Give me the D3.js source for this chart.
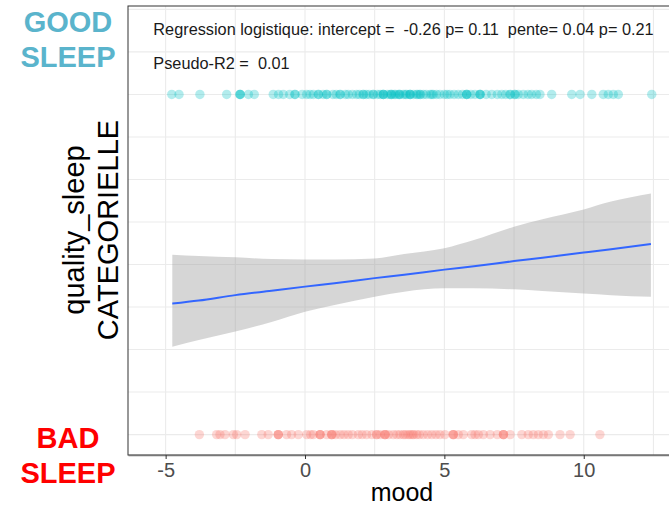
<!DOCTYPE html>
<html>
<head>
<meta charset="utf-8">
<script src="https://cdn.jsdelivr.net/npm/d3@7"></script>
<style>
  body { margin: 0; background: #fff; }
  svg { display: block; font-family: "Liberation Sans", Arial, sans-serif; }
</style>
</head>
<body>
<div id="wrapper"></div>
<script>
// mood of nights rated good sleep (y = 1)
const goodSleepMood = [-4.78, -4.52, -3.77, -2.81, -2.33, -2.33, -2.33, -2.03, -1.82, -1.14,
  -0.95, -0.78, -0.55, -0.36, -0.36, -0.1, 0.06, 0.18, 0.3, 0.48, 0.48, 0.65, 0.78, 0.78, 1.0,
  1.12, 1.26, 1.26, 1.45, 1.55, 1.7, 1.85, 1.95, 2.09, 2.09, 2.2, 2.3, 2.45, 2.45, 2.6, 2.7,
  2.81, 2.81, 2.81, 2.95, 3.05, 3.1, 3.1, 3.2, 3.25, 3.35, 3.4, 3.4, 3.53, 3.6, 3.65, 3.77,
  3.77, 3.77, 3.9, 4.0, 4.05, 4.13, 4.13, 4.25, 4.35, 4.49, 4.55, 4.6, 4.72, 4.84, 5.0, 5.1,
  5.2, 5.35, 5.5, 5.65, 5.8, 5.8, 5.8, 5.95, 6.1, 6.28, 6.28, 6.28, 6.5, 6.7, 6.9, 7.06,
  7.2, 7.36, 7.36, 7.53, 7.53, 7.65, 7.83, 8.0, 8.13, 8.3, 8.43, 8.85, 9.57, 9.87, 10.29,
  10.7, 10.88, 11.06, 11.24, 12.44]

// mood of nights rated bad sleep (y = 0)
const badSleepMood = [-3.79, -3.17, -3.05, -2.87, -2.57, -2.45, -2.15, -1.55, -1.32, -0.96,
  -0.96, -0.96, -0.66, -0.48, -0.24, 0.06, 0.2, 0.3, 0.54, 0.54, 0.54, 0.78, 0.96, 0.96, 0.96,
  1.1, 1.26, 1.4, 1.55, 1.7, 1.91, 2.05, 2.21, 2.4, 2.57, 2.57, 2.7, 2.87, 2.87, 2.87, 3.0,
  3.17, 3.3, 3.41, 3.53, 3.6, 3.7, 3.77, 3.85, 3.9, 4.01, 4.1, 4.24, 4.4, 4.55, 4.7, 4.84,
  5.02, 5.32, 5.32, 5.32, 5.5, 5.68, 5.98, 6.1, 6.22, 6.4, 6.64, 6.9, 7.12, 7.12, 7.12, 7.36,
  7.78, 8.01, 8.19, 8.37, 8.55, 8.73, 9.15, 9.51, 10.58]

// logistic fit and its confidence band
const fitMood  = [-4.76, -3.81, -2.5, -1.2, 0, 1.06, 2.5, 3.56, 5, 6.06, 7.5, 8.52, 10, 10.98, 12.41]
const fitProb  = [0.385, 0.394, 0.41, 0.423, 0.435, 0.445, 0.46, 0.47, 0.485, 0.495, 0.51, 0.52, 0.535, 0.545, 0.56]
const bandLow  = [0.258, 0.278, 0.303, 0.331, 0.361, 0.381, 0.405, 0.42, 0.43, 0.43, 0.427, 0.422, 0.415, 0.41, 0.405]
const bandHigh = [0.529, 0.525, 0.521, 0.516, 0.515, 0.515, 0.518, 0.531, 0.548, 0.572, 0.611, 0.633, 0.662, 0.685, 0.709]

const xTicks = [-5, 0, 5, 10]
const xMinor = [-2.5, 2.5, 7.5, 12.5]
const yGrid = d3.range(0, 1.26, 0.125)

const annotation1 = "Regression logistique: intercept =  -0.26 p= 0.11  pente= 0.04 p= 0.21"
const annotation2 = "Pseudo-R2 =  0.01"

const dimensions = {
  width: 669,
  height: 507,
  margin: { top: 6, right: -7, bottom: 52, left: 128 },
}
dimensions.boundedWidth = dimensions.width - dimensions.margin.left - dimensions.margin.right
dimensions.boundedHeight = dimensions.height - dimensions.margin.top - dimensions.margin.bottom

const wrapper = d3.select("#wrapper")
  .append("svg")
  .attr("width", dimensions.width)
  .attr("height", dimensions.height)

const bounds = wrapper.append("g")
  .attr("transform", `translate(${dimensions.margin.left},${dimensions.margin.top})`)

const xScale = d3.scaleLinear()
  .domain([-6.35, 13.31])
  .range([0, dimensions.boundedWidth])

const yScale = d3.scaleLinear()
  .domain([-0.06, 1.26])
  .range([dimensions.boundedHeight, 0])

// grid
bounds.append("g")
  .selectAll("line")
  .data(yGrid)
  .join("line")
  .attr("x1", 0)
  .attr("x2", dimensions.boundedWidth)
  .attr("y1", d => yScale(d))
  .attr("y2", d => yScale(d))
  .attr("stroke", "#ebebeb")
  .attr("stroke-width", 1.1)

bounds.append("g")
  .selectAll("line")
  .data(xTicks.concat(xMinor))
  .join("line")
  .attr("x1", d => xScale(d))
  .attr("x2", d => xScale(d))
  .attr("y1", 0)
  .attr("y2", dimensions.boundedHeight)
  .attr("stroke", "#ebebeb")
  .attr("stroke-width", 1.1)

// points
const drawRow = (values, yValue, color) => {
  bounds.append("g")
    .selectAll("circle")
    .data(values)
    .join("circle")
    .attr("cx", d => xScale(d))
    .attr("cy", yScale(yValue))
    .attr("r", 4.7)
    .attr("fill", color)
    .attr("fill-opacity", 0.3)
}
drawRow(goodSleepMood, 1, "#00BFC4")
drawRow(badSleepMood, 0, "#F8766D")

// confidence band + fitted line
const fitData = fitMood.map((m, i) => ({ m, p: fitProb[i], lo: bandLow[i], hi: bandHigh[i] }))

bounds.append("path")
  .attr("d", d3.area()
    .x(d => xScale(d.m))
    .y0(d => yScale(d.lo))
    .y1(d => yScale(d.hi))
    .curve(d3.curveMonotoneX)(fitData))
  .attr("fill", "#999999")
  .attr("fill-opacity", 0.4)

bounds.append("path")
  .attr("d", d3.line()
    .x(d => xScale(d.m))
    .y(d => yScale(d.p))
    .curve(d3.curveMonotoneX)(fitData))
  .attr("fill", "none")
  .attr("stroke", "#3366FF")
  .attr("stroke-width", 2)

// annotations
bounds.append("g")
  .selectAll("text")
  .data([[annotation1, 1.2], [annotation2, 1.1]])
  .join("text")
  .attr("x", xScale(-5.44))
  .attr("y", d => yScale(d[1]))
  .attr("dy", "0.5em")
  .style("font-size", "16.3px")
  .style("white-space", "pre")
  .attr("fill", "#1a1a1a")
  .text(d => d[0])

// panel border
bounds.append("rect")
  .attr("width", dimensions.boundedWidth)
  .attr("height", dimensions.boundedHeight)
  .attr("fill", "none")
  .attr("stroke", "#333333")
  .attr("stroke-width", 1)

// x axis
const xAxisGenerator = d3.axisBottom()
  .scale(xScale)
  .tickValues(xTicks)
  .tickFormat(d => String(d))
  .tickSize(4)
  .tickSizeOuter(0)
  .tickPadding(4)

const xAxis = bounds.append("g")
  .attr("transform", `translate(0,${dimensions.boundedHeight})`)
  .call(xAxisGenerator)

xAxis.select(".domain").attr("stroke", "#777777").attr("stroke-width", 1.6)
xAxis.selectAll(".tick line").attr("stroke", "#333333")
xAxis.selectAll(".tick text")
  .attr("fill", "#4d4d4d")
  .style("font-size", "20px")
  .style("font-family", "Liberation Sans, Arial, sans-serif")

wrapper.append("text")
  .attr("x", 402)
  .attr("y", 501)
  .style("text-anchor", "middle")
  .style("font-size", "25px")
  .attr("fill", "#000")
  .text("mood")

// y title (two lines, rotated)
const yTitle = ["quality_sleep", "CATEGORIELLE"]
wrapper.append("g")
  .selectAll("text")
  .data(yTitle)
  .join("text")
  .attr("transform", (d, i) => `translate(${[84, 118][i]},230) rotate(-90)`)
  .style("text-anchor", "middle")
  .style("font-size", "29px")
  .attr("fill", "#000")
  .text(d => d)

// side labels
const sideLabels = [
  { lines: ["GOOD", "SLEEP"], y: 32, color: "#5AB4CC" },
  { lines: ["BAD", "SLEEP"], y: 448, color: "#FF0000" },
]
sideLabels.forEach(lab => {
  wrapper.append("g")
    .selectAll("text")
    .data(lab.lines)
    .join("text")
    .attr("x", 68)
    .attr("y", (d, i) => lab.y + i * 35)
    .style("text-anchor", "middle")
    .style("font-size", "29px")
    .style("font-weight", "bold")
    .attr("fill", lab.color)
    .text(d => d)
})
</script>
</body>
</html>
